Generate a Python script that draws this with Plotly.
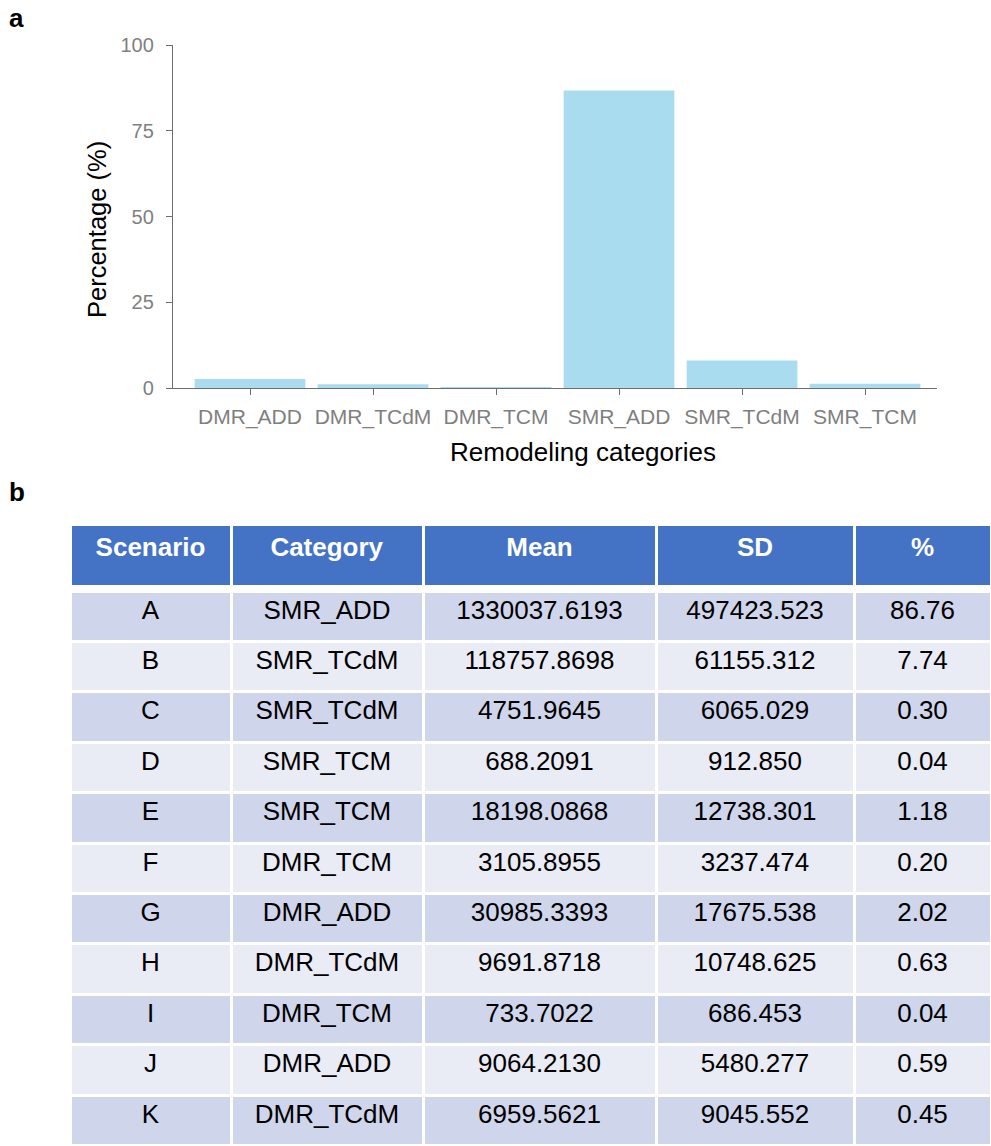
import plotly.graph_objects as go

# ---- Data ----
categories = ["DMR_ADD", "DMR_TCdM", "DMR_TCM", "SMR_ADD", "SMR_TCdM", "SMR_TCM"]
percentages = [2.61, 1.08, 0.24, 86.76, 8.04, 1.22]
y_ticks = [0, 25, 50, 75, 100]

table_header = ["Scenario", "Category", "Mean", "SD", "%"]
scenario = ["A", "B", "C", "D", "E", "F", "G", "H", "I", "J", "K"]
category = ["SMR_ADD", "SMR_TCdM", "SMR_TCdM", "SMR_TCM", "SMR_TCM", "DMR_TCM",
            "DMR_ADD", "DMR_TCdM", "DMR_TCM", "DMR_ADD", "DMR_TCdM"]
mean = ["1330037.6193", "118757.8698", "4751.9645", "688.2091", "18198.0868",
        "3105.8955", "30985.3393", "9691.8718", "733.7022", "9064.2130", "6959.5621"]
sd = ["497423.523", "61155.312", "6065.029", "912.850", "12738.301",
      "3237.474", "17675.538", "10748.625", "686.453", "5480.277", "9045.552"]
pct = ["86.76", "7.74", "0.30", "0.04", "1.18", "0.20", "2.02", "0.63", "0.04", "0.59", "0.45"]

W, H = 991, 1146
FONT = "Liberation Sans, Arial, sans-serif"

def px_x(x):
    return x / W

def px_y(y):
    return (H - y) / H

fig = go.Figure()

fig.add_trace(go.Bar(
    x=categories, y=percentages, width=0.9,
    marker=dict(color="#AADCF0", line=dict(width=0)),
    xaxis="x", yaxis="y", showlegend=False,
))

col_widths = [161, 192, 233, 198, 137]
columns = [scenario, category, mean, sd, pct]
row_fills = ["#CFD5EA" if i % 2 == 0 else "#E9EBF5" for i in range(len(scenario))]
ROW_H = 50.4

# header table
fig.add_trace(go.Table(
    domain=dict(x=[px_x(70), 1.0], y=[px_y(587), px_y(524)]),
    columnwidth=col_widths,
    header=dict(values=[f"<b>{h}</b>" for h in table_header],
                fill_color="#4472C4", line=dict(color="white", width=3),
                font=dict(family=FONT, size=26, color="white"),
                align="center", height=62),
    cells=dict(values=[[] for _ in table_header], height=1),
))

# body table (first data row drawn in the header slot, styled as a body row)
fig.add_trace(go.Table(
    domain=dict(x=[px_x(70), 1.0], y=[0, px_y(591)]),
    columnwidth=col_widths,
    header=dict(values=[c[0] for c in columns],
                fill_color=row_fills[0],
                line=dict(color="white", width=3),
                font=dict(family=FONT, size=26, color="black"),
                align="center", height=ROW_H),
    cells=dict(values=[c[1:] for c in columns],
               fill_color=[row_fills[1:]] * 5,
               line=dict(color="white", width=3),
               font=dict(family=FONT, size=26, color="black"),
               align="center", height=ROW_H),
))

fig.update_layout(
    template="none",
    width=W, height=H,
    margin=dict(l=0, r=0, t=0, b=0, pad=0, autoexpand=False),
    paper_bgcolor="white", plot_bgcolor="white",
    font=dict(family=FONT),
    bargap=0.1,
    xaxis=dict(
        domain=[px_x(173), px_x(937)],
        range=[-0.626, 5.585],
        automargin=False,
        showline=True, linecolor="#6d6d6d", linewidth=1.3,
        ticks="outside", ticklen=6, tickcolor="#6d6d6d",
        tickfont=dict(family=FONT, size=21, color="#7f7f7f"),
        showgrid=False, zeroline=False, fixedrange=True,
        ticklabelstandoff=4,
    ),
    yaxis=dict(
        domain=[px_y(388), px_y(45)],
        range=[0, 100],
        tickvals=y_ticks,
        automargin=False,
        showline=True, linecolor="#6d6d6d", linewidth=1.3,
        ticks="outside", ticklen=6, tickcolor="#6d6d6d",
        tickfont=dict(family=FONT, size=20, color="#7f7f7f"),
        showgrid=False, zeroline=False, fixedrange=True,
        ticklabelstandoff=8,
    ),
    annotations=[
        dict(text="Remodeling categories", x=px_x(583), y=px_y(452),
             xref="paper", yref="paper", showarrow=False,
             xanchor="center", yanchor="middle",
             font=dict(family=FONT, size=26, color="black")),
        dict(text="Percentage (%)", x=px_x(97), y=px_y(230),
             xref="paper", yref="paper", showarrow=False, textangle=-90,
             xanchor="center", yanchor="middle",
             font=dict(family=FONT, size=25.5, color="black")),
        dict(text="<b>a</b>", x=px_x(7), y=px_y(1),
             xref="paper", yref="paper", showarrow=False,
             xanchor="left", yanchor="top",
             font=dict(family=FONT, size=26, color="black")),
        dict(text="<b>b</b>", x=px_x(7), y=px_y(475),
             xref="paper", yref="paper", showarrow=False,
             xanchor="left", yanchor="top",
             font=dict(family=FONT, size=26, color="black")),
    ],
)

fig.write_html("out.html", config={"displayModeBar": False},
               post_script="document.body.style.margin='0';document.body.style.overflow='hidden';")
